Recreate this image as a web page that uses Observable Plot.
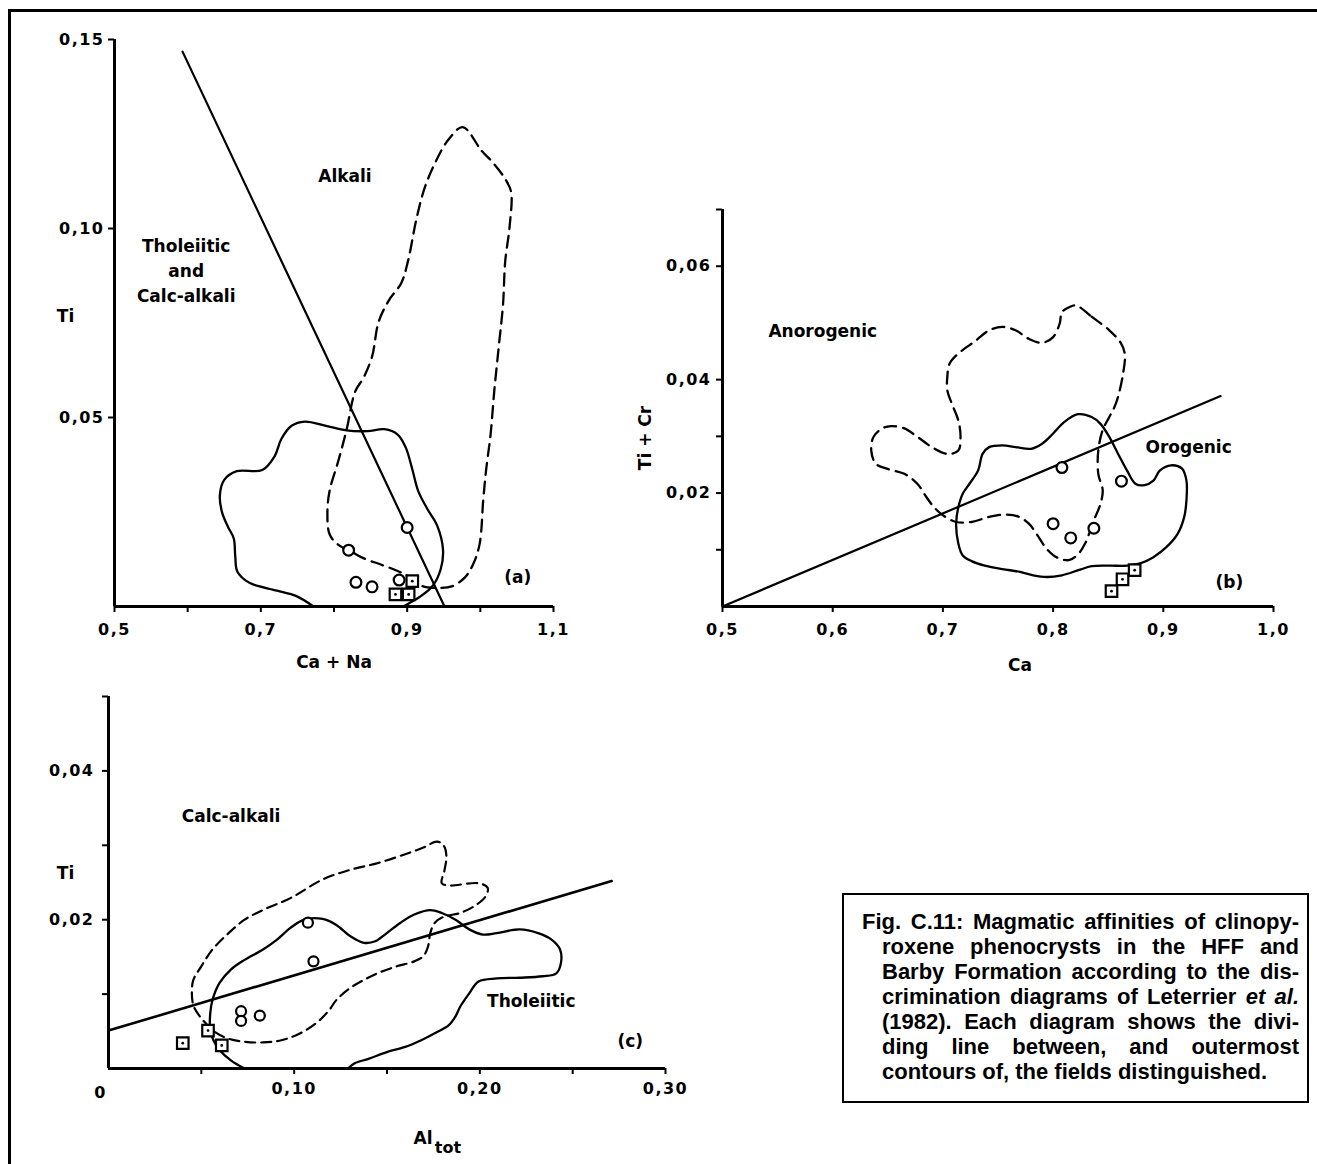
<!DOCTYPE html>
<html>
<head>
<meta charset="utf-8">
<script src="https://cdn.jsdelivr.net/npm/d3@7"></script>
<script src="https://cdn.jsdelivr.net/npm/@observablehq/plot@0.6"></script>
<style>
html, body { margin: 0; padding: 0; background: #fff; }
body { width: 1317px; height: 1164px; overflow: hidden; position: relative; font-family: "DejaVu Sans", sans-serif; }
#frame { position: absolute; left: 8px; top: 9px; width: 1400px; height: 1300px; border-left: 3px solid #000; border-top: 3px solid #000; }
.panel { position: absolute; }
#caption { position: absolute; left: 842px; top: 893px; width: 467px; height: 210px; border: 2px solid #000; box-sizing: border-box;
  font-family: "Liberation Sans", Arial, sans-serif; font-weight: bold; font-size: 22px; color: #000; }
#caption .l { position: absolute; right: 8px; line-height: 25px; height: 25px; text-align: justify; text-align-last: justify; }
#caption .l.first { left: 18px; }
#caption .l.rest { left: 38px; }
#caption .l.last { text-align-last: left; }
</style>
</head>
<body>
<div id="frame"></div>
<div id="pa" class="panel" style="left:0px;top:0px;"></div>
<div id="pb" class="panel" style="left:600px;top:190px;"></div>
<div id="pc" class="panel" style="left:0px;top:680px;"></div>
<div id="caption"></div>
<script>
// ---------------- Panel (a): Ti vs Ca + Na ----------------
const aTicksX = [0.5, 0.6, 0.7, 0.8, 0.9, 1.0, 1.1];
const aTickLabelsX = ["0,5", "", "0,7", "", "0,9", "", "1,1"];
const aTicksY = [0.05, 0.10, 0.15];
const aTickLabelsY = ["0,05", "0,10", "0,15"];
const aDivider = [[0.593, 0.1468], [0.951, 0]];
const aAlkaliField = [[0.976,0.1268],[1.002,0.1205],[1.016,0.1177],[1.034,0.1131],[1.042,0.1097],[1.040,0.1005],[1.034,0.0913],[1.031,0.0799],[1.025,0.0684],[1.019,0.0569],[1.014,0.0455],[1.008,0.0363],[1.004,0.0283],[0.999,0.0165],[0.990,0.0111],[0.979,0.0077],[0.962,0.0054],[0.944,0.0049],[0.921,0.0054],[0.904,0.0077],[0.887,0.0094],[0.864,0.0111],[0.840,0.0128],[0.823,0.0146],[0.806,0.0163],[0.794,0.0191],[0.791,0.0249],[0.794,0.0306],[0.806,0.0386],[0.817,0.0466],[0.829,0.0569],[0.840,0.0604],[0.852,0.0661],[0.861,0.0753],[0.875,0.0810],[0.892,0.0856],[0.901,0.0913],[0.913,0.1028],[0.924,0.1108],[0.939,0.1177],[0.956,0.1234]];
const aTholeiiticField = [[0.772,0],[0.748,0.0028],[0.722,0.0042],[0.685,0.0062],[0.668,0.0092],[0.665,0.0134],[0.663,0.0180],[0.655,0.0211],[0.647,0.0249],[0.644,0.0294],[0.650,0.0335],[0.667,0.0358],[0.702,0.0361],[0.719,0.0398],[0.728,0.0443],[0.742,0.0478],[0.760,0.0489],[0.789,0.0478],[0.817,0.0466],[0.846,0.0464],[0.869,0.0469],[0.887,0.0455],[0.898,0.0421],[0.907,0.0363],[0.915,0.0306],[0.927,0.0260],[0.941,0.0214],[0.949,0.0150],[0.946,0.0100],[0.935,0.0055],[0.917,0.0025],[0.902,0.0008],[0.895,0]];
const aCircles = [[0.900,0.0209],[0.820,0.0149],[0.830,0.0064],[0.852,0.0052],[0.889,0.0070]];
const aSquares = [[0.907,0.0067],[0.884,0.0032],[0.902,0.0032]];
const aLabelText = ["Alkali", "Tholeiitic", "and", "Calc-alkali", "(a)"];
const aLabelX = [0.815, 0.598, 0.598, 0.598, 1.051];
const aLabelY = [0.1137, 0.0952, 0.0886, 0.0820, 0.0077];

// ---------------- Panel (b): Ti + Cr vs Ca ----------------
const bTicksX = [0.5, 0.6, 0.7, 0.8, 0.9, 1.0];
const bTickLabelsX = ["0,5", "0,6", "0,7", "0,8", "0,9", "1,0"];
const bTicksY = [0.01, 0.02, 0.03, 0.04, 0.06, 0.07];
const bTickLabelsY = ["", "0,02", "", "0,04", "0,06", ""];
const bDivider = [[0.5, 0], [0.952, 0.0371]];
const bAnorogenicField = [[0.8206,0.0531],[0.835,0.0511],[0.851,0.0487],[0.861,0.0466],[0.865,0.0446],[0.863,0.0405],[0.857,0.0358],[0.851,0.0334],[0.845,0.0311],[0.841,0.0275],[0.841,0.0234],[0.845,0.0205],[0.843,0.0181],[0.837,0.0152],[0.829,0.0111],[0.823,0.0093],[0.815,0.0082],[0.804,0.0086],[0.794,0.0102],[0.786,0.0125],[0.778,0.0146],[0.768,0.0159],[0.756,0.0162],[0.742,0.0158],[0.726,0.0149],[0.712,0.0149],[0.700,0.0161],[0.692,0.0175],[0.685,0.0193],[0.677,0.0216],[0.665,0.0234],[0.649,0.0243],[0.639,0.0252],[0.635,0.0275],[0.637,0.0299],[0.645,0.0314],[0.653,0.0318],[0.665,0.0314],[0.677,0.0299],[0.690,0.0281],[0.704,0.0269],[0.714,0.0275],[0.716,0.0299],[0.714,0.0328],[0.708,0.0358],[0.704,0.0381],[0.704,0.0405],[0.706,0.0428],[0.714,0.0446],[0.730,0.0469],[0.742,0.0487],[0.754,0.0493],[0.766,0.0487],[0.778,0.0472],[0.790,0.0465],[0.800,0.0475],[0.806,0.0499],[0.808,0.0519],[0.815,0.0528]];
const bOrogenicField = [[0.8226,0.0339],[0.835,0.0334],[0.843,0.0322],[0.851,0.0299],[0.859,0.0269],[0.867,0.0240],[0.875,0.0216],[0.883,0.0214],[0.891,0.0222],[0.897,0.0240],[0.907,0.0249],[0.917,0.0243],[0.921,0.0222],[0.921,0.0187],[0.919,0.0158],[0.913,0.0128],[0.903,0.0105],[0.891,0.0087],[0.879,0.0076],[0.867,0.0072],[0.851,0.0072],[0.835,0.0071],[0.823,0.0064],[0.808,0.0055],[0.794,0.0052],[0.782,0.0055],[0.770,0.0061],[0.754,0.0066],[0.738,0.0072],[0.726,0.0080],[0.718,0.0090],[0.714,0.0111],[0.712,0.0146],[0.714,0.0175],[0.718,0.0199],[0.724,0.0216],[0.732,0.0240],[0.736,0.0269],[0.742,0.0281],[0.754,0.0284],[0.766,0.0281],[0.780,0.0278],[0.790,0.0287],[0.800,0.0305],[0.810,0.0325]];
const bCircles = [[0.808,0.0245],[0.862,0.0221],[0.800,0.0146],[0.816,0.0121],[0.837,0.0138]];
const bSquares = [[0.853,0.0027],[0.863,0.0048],[0.874,0.0064]];
const bLabelText = ["Anorogenic", "Orogenic", "(b)"];
const bLabelX = [0.591, 0.923, 0.960];
const bLabelY = [0.0484, 0.0281, 0.0043];

// ---------------- Panel (c): Ti vs Al tot ----------------
const cTicksX = [0, 0.05, 0.10, 0.15, 0.20, 0.25, 0.30];
const cTickLabelsX = ["0", "", "0,10", "", "0,20", "", "0,30"];
const cTicksY = [0.01, 0.02, 0.03, 0.04, 0.05];
const cTickLabelsY = ["", "0,02", "", "0,04", ""];
const cDivider = [[0, 0.0051], [0.271, 0.0252]];
const cCalcAlkaliField = [[0.1770,0.0305],[0.1807,0.0299],[0.1820,0.0285],[0.1810,0.0267],[0.1795,0.0249],[0.1832,0.0246],[0.1993,0.0249],[0.2042,0.0243],[0.2030,0.0231],[0.1968,0.0218],[0.1894,0.0209],[0.1807,0.0204],[0.1758,0.0196],[0.1733,0.0182],[0.1721,0.0164],[0.1696,0.0151],[0.1647,0.0144],[0.1548,0.0137],[0.1449,0.0128],[0.1375,0.0119],[0.1301,0.0108],[0.1227,0.0092],[0.1190,0.0079],[0.1128,0.0063],[0.1030,0.0047],[0.0931,0.0038],[0.0832,0.0035],[0.0733,0.0036],[0.0647,0.0040],[0.0573,0.0049],[0.0523,0.0061],[0.0486,0.0072],[0.0457,0.0085],[0.0449,0.0101],[0.0457,0.0119],[0.0499,0.0137],[0.0560,0.0160],[0.0647,0.0182],[0.0733,0.0200],[0.0832,0.0213],[0.0980,0.0229],[0.1153,0.0254],[0.1301,0.0267],[0.1449,0.0276],[0.1598,0.0288],[0.1696,0.0297]];
const cTholeiiticField = [[0.0733,0],[0.0659,0.0011],[0.0598,0.0025],[0.0565,0.0038],[0.0548,0.0052],[0.0548,0.0074],[0.0560,0.0092],[0.0598,0.0115],[0.0659,0.0133],[0.0733,0.0146],[0.0832,0.0160],[0.0906,0.0173],[0.0980,0.0189],[0.1054,0.0200],[0.1153,0.0201],[0.1227,0.0193],[0.1301,0.0178],[0.1375,0.0169],[0.1437,0.0171],[0.1499,0.0182],[0.1573,0.0196],[0.1647,0.0207],[0.1733,0.0213],[0.1795,0.0209],[0.1869,0.0200],[0.1943,0.0187],[0.2017,0.0180],[0.2091,0.0182],[0.2215,0.0187],[0.2314,0.0182],[0.2388,0.0173],[0.2432,0.0160],[0.2437,0.0142],[0.2412,0.0128],[0.2338,0.0124],[0.2215,0.0122],[0.2091,0.0121],[0.1993,0.0117],[0.1943,0.0101],[0.1894,0.0083],[0.1869,0.0070],[0.1832,0.0058],[0.1770,0.0049],[0.1684,0.0038],[0.1598,0.0029],[0.1499,0.0022],[0.1400,0.0013],[0.1326,0.0007],[0.1289,0]];
const cCircles = [[0.1074,0.0196],[0.1104,0.0144],[0.0714,0.0077],[0.0714,0.0064],[0.0815,0.0071]];
const cSquares = [[0.0400,0.0034],[0.0536,0.0051],[0.0610,0.0031]];
const cLabelText = ["Calc-alkali", "Tholeiitic", "(c)"];
const cLabelX = [0.066, 0.2277, 0.281];
const cLabelY = [0.0339, 0.0090, 0.0036];

// ---------------- Caption ----------------
const captionLines = [
  "<b>Fig. C.11:</b> Magmatic affinities of clinopy-",
  "roxene phenocrysts in the HFF and",
  "Barby Formation according to the dis-",
  "crimination diagrams of Leterrier <i>et al.</i>",
  "(1982). Each diagram shows the divi-",
  "ding line between, and outermost",
  "contours of, the fields distinguished."
];

// ---------------- helpers ----------------
const FONT = "DejaVu Sans";
const px = d => d[0], py = d => d[1];
const lookup = (ticks, labels) => d => {
  const i = ticks.findIndex(t => Math.abs(t - d) < 1e-9);
  return i < 0 ? "" : labels[i];
};
const TXT = {fontSize: 17, fontWeight: "bold", fontFamily: FONT, fill: "#000"};

function fieldMarks(circles, squares, labelText, labelX, labelY, r = 5.4) {
  return [
    Plot.dot(circles, {x: px, y: py, r, stroke: "#000", strokeWidth: 2.2, fill: "#fff"}),
    Plot.dot(squares, {x: px, y: py, symbol: "square", r: 6.5, stroke: "#000", strokeWidth: 2.2, fill: "#fff"}),
    Plot.dot(squares, {x: px, y: py, r: 1.4, fill: "#000", stroke: null}),
    Plot.text(labelText, {x: (d, i) => labelX[i], y: (d, i) => labelY[i], text: d => d, ...TXT})
  ];
}

function makePanel(cfg) {
  const svg = Plot.plot({
    width: cfg.width, height: cfg.height,
    marginLeft: cfg.ml, marginRight: cfg.mr, marginTop: cfg.mt, marginBottom: cfg.mb,
    x: {domain: cfg.xDomain},
    y: {domain: cfg.yDomain},
    style: {background: "transparent", fontFamily: FONT, fontWeight: "bold", fontSize: "16px", color: "#000", overflow: "visible"},
    marks: [
      Plot.axisX({ticks: cfg.xTicks, tickFormat: lookup(cfg.xTicks, cfg.xLabels), tickSize: 6,
        tickPadding: cfg.xPad, strokeWidth: 2, fontSize: 16, fontWeight: "bold", label: null}),
      Plot.axisY({ticks: cfg.yTicks, tickFormat: lookup(cfg.yTicks, cfg.yLabels), tickSize: 6,
        tickPadding: cfg.yPad, strokeWidth: 2, fontSize: 16, fontWeight: "bold", label: null}),
      ...(cfg.extraAxes || []),
      Plot.ruleY([cfg.yDomain[0]], {strokeWidth: 3}),
      Plot.ruleX([cfg.xDomain[0]], {strokeWidth: 3}),
      ...cfg.marks
    ]
  });
  d3.select(svg).selectAll('g[aria-label$="tick label"] text').attr("letter-spacing", "1.5px");
  document.getElementById(cfg.id).appendChild(svg);
}

const DASH = "12,7";

// Panel (a)
makePanel({
  id: "pa", width: 600, height: 690, ml: 114, mr: 47, mt: 39, mb: 84,
  xDomain: [0.5, 1.1], yDomain: [0, 0.15], xPad: 11, yPad: 4,
  xTicks: aTicksX, xLabels: aTickLabelsX, yTicks: aTicksY, yLabels: aTickLabelsY,
  marks: [
    Plot.line(aAlkaliField, {x: px, y: py, curve: "catmull-rom-closed", stroke: "#000", strokeWidth: 2.3, strokeDasharray: DASH}),
    Plot.line(aTholeiiticField, {x: px, y: py, curve: "catmull-rom", stroke: "#000", strokeWidth: 2.3}),
    Plot.line(aDivider, {x: px, y: py, stroke: "#000", strokeWidth: 2.2}),
    ...fieldMarks(aCircles, aSquares, aLabelText, aLabelX, aLabelY),
    Plot.text(["Ti"], {frameAnchor: "left", textAnchor: "middle", lineAnchor: "middle", dx: -49, dy: -6, ...TXT}),
    Plot.text(["Ca + Na"], {frameAnchor: "bottom", textAnchor: "middle", lineAnchor: "middle", dy: 56, ...TXT})
  ]
});

// Panel (b)
makePanel({
  id: "pb", width: 717, height: 500, ml: 122, mr: 44, mt: 19, mb: 84,
  xDomain: [0.5, 1.0], yDomain: [0, 0.07], xPad: 11, yPad: 5,
  xTicks: bTicksX, xLabels: bTickLabelsX, yTicks: bTicksY, yLabels: bTickLabelsY,
  marks: [
    Plot.line(bAnorogenicField, {x: px, y: py, curve: "catmull-rom-closed", stroke: "#000", strokeWidth: 2.3, strokeDasharray: DASH}),
    Plot.line(bOrogenicField, {x: px, y: py, curve: "catmull-rom-closed", stroke: "#000", strokeWidth: 2.3}),
    Plot.line(bDivider, {x: px, y: py, stroke: "#000", strokeWidth: 2.2}),
    ...fieldMarks(bCircles, bSquares, bLabelText, bLabelX, bLabelY),
    Plot.text(["Ti + Cr"], {frameAnchor: "left", textAnchor: "middle", lineAnchor: "middle", dx: -77, dy: 30, rotate: -90, ...TXT}),
    Plot.text(["Ca"], {frameAnchor: "bottom", textAnchor: "middle", lineAnchor: "middle", dx: 22, dy: 59, ...TXT})
  ]
});

// Panel (c)
makePanel({
  id: "pc", width: 720, height: 484, ml: 108, mr: 55, mt: 16, mb: 96,
  xDomain: [0, 0.30], yDomain: [0, 0.05], xPad: 8, yPad: 8,
  xTicks: cTicksX.slice(1), xLabels: cTickLabelsX.slice(1), yTicks: cTicksY, yLabels: cTickLabelsY,
  extraAxes: [
    Plot.axisX({ticks: cTicksX.slice(0, 1), tickFormat: lookup(cTicksX, cTickLabelsX), tickSize: 0,
      tickPadding: 18, dx: -8, fontSize: 16, fontWeight: "bold", label: null})
  ],
  marks: [
    Plot.line(cCalcAlkaliField, {x: px, y: py, curve: "catmull-rom-closed", stroke: "#000", strokeWidth: 2.2, strokeDasharray: "10,6"}),
    Plot.line(cTholeiiticField, {x: px, y: py, curve: "catmull-rom", stroke: "#000", strokeWidth: 2.3}),
    Plot.line(cDivider, {x: px, y: py, stroke: "#000", strokeWidth: 2.6}),
    ...fieldMarks(cCircles, cSquares, cLabelText, cLabelX, cLabelY, 5),
    Plot.text(["Ti"], {frameAnchor: "left", textAnchor: "middle", lineAnchor: "middle", dx: -43, dy: -9, ...TXT}),
    Plot.text(["Al"], {frameAnchor: "bottom", textAnchor: "middle", lineAnchor: "middle", dx: 36, dy: 70, ...TXT}),
    Plot.text(["tot"], {frameAnchor: "bottom", textAnchor: "middle", lineAnchor: "middle", dx: 61, dy: 79, ...TXT, fontSize: 16})
  ]
});

// Caption lines
const cap = document.getElementById("caption");
captionLines.forEach((t, i) => {
  const div = document.createElement("div");
  div.className = "l " + (i === 0 ? "first" : "rest") + (i === captionLines.length - 1 ? " last" : "");
  div.style.top = (14 + i * 25) + "px";
  div.innerHTML = t;
  cap.appendChild(div);
});
</script>
</body>
</html>
